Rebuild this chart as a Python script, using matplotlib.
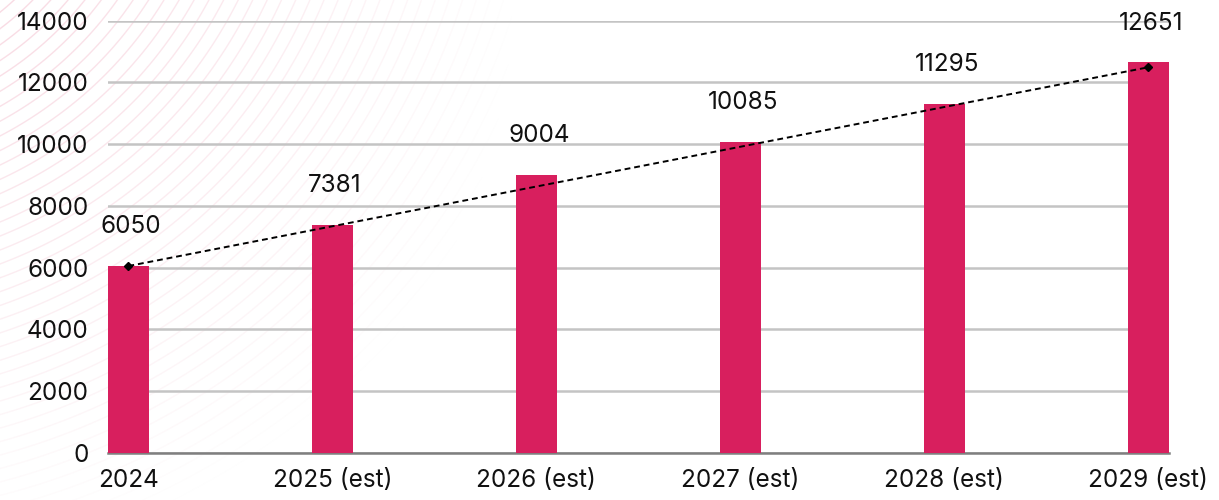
import numpy as np
import matplotlib
matplotlib.use("Agg")
import matplotlib.pyplot as plt
from matplotlib.collections import LineCollection

# data
years = ["2024", "2025 (est)", "2026 (est)", "2027 (est)", "2028 (est)", "2029 (est)"]
values = [6050, 7381, 9004, 10085, 11295, 12651]
trend_pos = [0, 5]
trend_values = [6050, 12490]

plt.rcParams['font.family'] = ['Inter', 'DejaVu Sans']

fig = plt.figure(figsize=(12.19, 5.0), dpi=100)

# faint decorative arcs in the background (top left)
bg = fig.add_axes([0, 0, 1, 1], zorder=-1)
bg.set_xlim(0, 1219)
bg.set_ylim(500, 0)
bg.axis('off')
cx, cy = -180, -210
t = np.linspace(0, np.pi / 2, 200)
segs = []
cols = []
for r in range(260, 820, 13):
    xs = cx + r * np.cos(t)
    ys = cy + r * np.sin(t)
    pts = np.column_stack([xs, ys])
    for i in range(len(pts) - 1):
        xm, ym = (pts[i] + pts[i + 1]) / 2
        d = np.sqrt((xm / 520) ** 2 + (ym / 540) ** 2)
        a = np.clip(1 - d, 0, 1) * 0.32
        if a <= 0.005:
            continue
        segs.append(pts[i:i + 2])
        cols.append((0.93, 0.55, 0.66, a))
bg.add_collection(LineCollection(segs, colors=cols, linewidths=1.0))

ax = fig.add_axes([0.0886, 0.0946, 0.87, 0.8640])
ax.set_facecolor('none')
x = np.arange(len(years))
ax.bar(x, values, width=0.2, color='#D81F5E', zorder=3)
ax.plot(trend_pos, trend_values, color='black', linestyle=(0, (3, 2)), linewidth=1.4,
        marker='D', markersize=4.5, zorder=4)

for xi, v in zip(x, values):
    ax.annotate(str(v), (xi, v), xytext=(2, 20), textcoords='offset points',
                ha='center', va='bottom', fontsize=17.5, color='#111111')

ax.set_xlim(-0.1, 5.1)
ax.set_ylim(0, 14000)
ax.set_yticks(range(0, 14001, 2000))
ax.set_xticks(x)
ax.set_xticklabels(years)
ax.tick_params(axis='both', length=0, labelsize=17.5, labelcolor='#111111')
ax.tick_params(axis='y', pad=14)
ax.tick_params(axis='x', pad=12)
ax.yaxis.grid(True, color='#C4C4C4', linewidth=1.8, zorder=0)
ax.set_axisbelow(True)
for s in ['top', 'right', 'left']:
    ax.spines[s].set_visible(False)
ax.spines['bottom'].set_color('#7F7F7F')
ax.spines['bottom'].set_linewidth(1.8)

fig.savefig('out.png', dpi=100)
